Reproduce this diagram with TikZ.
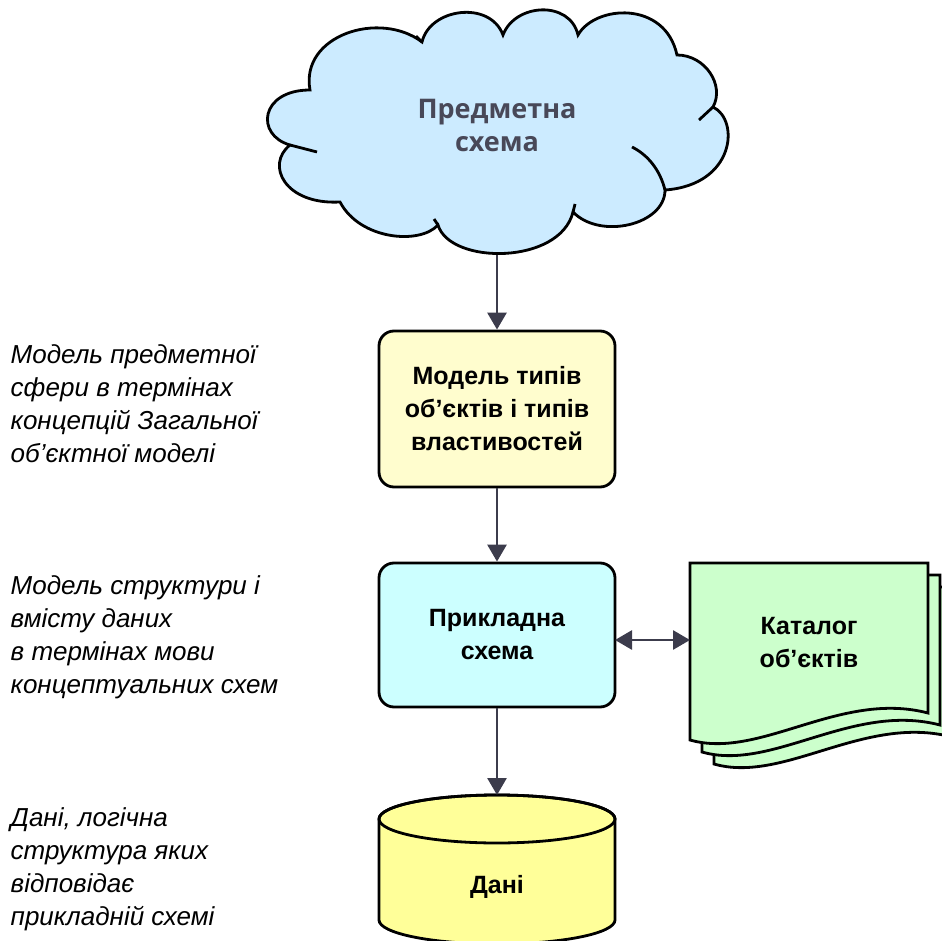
\documentclass[tikz,border=0pt]{standalone}
\usepackage{fontspec}
\setmainfont{Liberation Sans}
\newfontfamily\cloudfont{Open Sans}
\usetikzlibrary{arrows.meta,positioning}
\definecolor{cloudfill}{RGB}{204,235,255}
\definecolor{typefill} {RGB}{255,253,206}
\definecolor{appfill}  {RGB}{204,255,255}
\definecolor{catfill}  {RGB}{204,255,204}
\definecolor{datafill} {RGB}{255,255,153}
\definecolor{arrowgray}{RGB}{60,60,76}
\definecolor{cloudtext}{RGB}{72,72,88}

\begin{document}
\begin{tikzpicture}[x=1pt,y=-1pt,line width=2.8pt,
  box/.style={draw, rounded corners=15pt, minimum width=236pt,
              align=center, font=\fontsize{25}{33}\selectfont\bfseries},
  label/.style={align=center, font=\fontsize{25}{33}\selectfont\bfseries},
  note/.style={anchor=north west, align=left, font=\fontsize{26}{33}\selectfont\itshape},
  flow/.style={-{Triangle[length=17pt,width=19pt]}, arrowgray},
  docsheet/.style={draw, fill=catfill}]
\useasboundingbox (0,0) rectangle (942,941);
% cloud
\draw[fill=cloudfill] (310,90)
  .. controls (300,35) and (380,10) .. (422,42)
  .. controls (430,8) and (490,0) .. (503,35)
  .. controls (515,3) and (570,0) .. (578,35)
  .. controls (595,5) and (665,0) .. (677,55)
  .. controls (705,55) and (725,85) .. (713,107)
  .. controls (740,120) and (735,185) .. (665,190)
  .. controls (665,225) and (600,240) .. (573,212)
  .. controls (560,265) and (450,265) .. (438,225)
  .. controls (420,245) and (360,240) .. (340,202)
  .. controls (285,205) and (265,165) .. (290,145)
  .. controls (255,135) and (260,90) .. (310,90) -- cycle;
\draw (665,190) .. controls (660,170) and (648,155) .. (632,147);
\draw (713,107) -- (699,120);
\draw (290,145) -- (317,152);
\draw (438,225) -- (434,219);
\draw (573,212) -- (575,204);
\draw (422,42) -- (416,36);
\node[align=center, cloudtext, font=\fontsize{27}{33}\selectfont\cloudfont\bfseries] (domain) at (497,125) {Предметна\\схема};
\coordinate (cloudbottom) at (497,255);
% boxes
\node[box, fill=typefill, minimum height=156pt] (types) at (497,409) {Модель типів\\об’єктів і типів\\властивостей};
\node[box, fill=appfill, minimum height=144pt] (app) at (497,635) {Прикладна\\схема};
% catalog of objects
\foreach \d in {24,12,0}
  \draw[docsheet] (690+\d,563+\d) -- (928+\d,563+\d) -- (928+\d,713+\d)
        .. controls (840+\d,690+\d) and (760+\d,760+\d) .. (690+\d,740+\d) -- cycle;
\node[label] (catalog) at (809,643) {Каталог\\об’єктів};
% data store
\path[draw, fill=datafill] (379,819) -- (379,920)
      arc[start angle=180, end angle=0, x radius=118, y radius=24] -- (615,819)
      arc[start angle=0, end angle=-180, x radius=118, y radius=24] -- cycle;
\draw (497,819) ellipse[x radius=118, y radius=24];
\node[label] (data) at (497,887) {Дані};
\coordinate (datatop) at (497,795);
\coordinate (catin) at (690,640);
\coordinate (appout) at (615,640);
% connectors
\draw[flow] (cloudbottom) -- (types.north);
\draw[flow] (types.south) -- (app.north);
\draw[flow] (app.south) -- (datatop);
\draw[flow, {Triangle[length=17pt,width=19pt]}-{Triangle[length=17pt,width=19pt]}] (appout) -- (catin);
% notes
\node[note] (n1) at (6,340) {Модель предметної\\сфери в термінах\\концепцій Загальної\\об’єктної моделі};
\node[note] (n2) at (6,571) {Модель структури і\\вмісту даних\\в термінах мови\\концептуальних схем};
\node[note] (n3) at (6,803) {Дані, логічна\\структура яких\\відповідає\\прикладній схемі};
\end{tikzpicture}
\end{document}
